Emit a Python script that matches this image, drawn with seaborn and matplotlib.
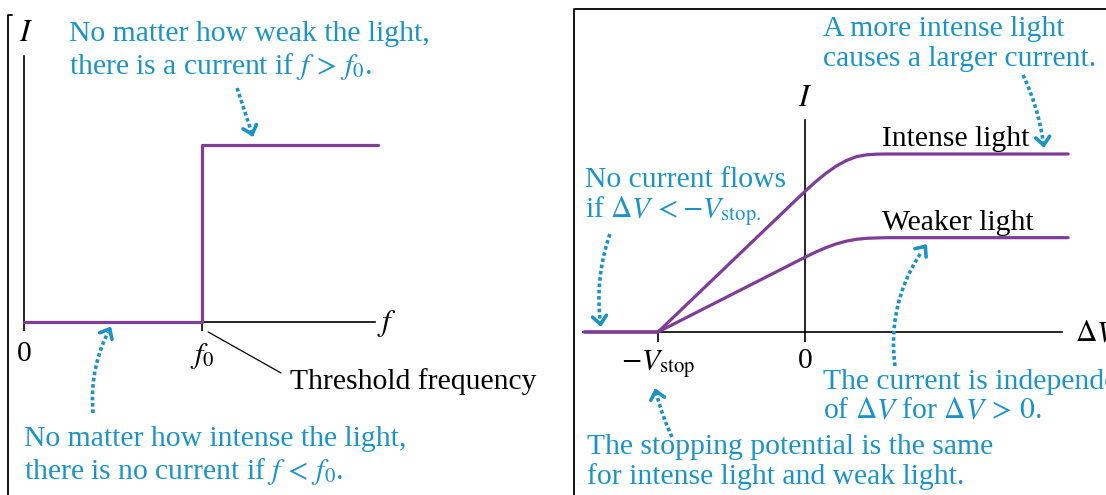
import numpy as np
import pandas as pd
import matplotlib
matplotlib.use("Agg")
import matplotlib.pyplot as plt
from matplotlib.lines import Line2D
import seaborn as sns

# ---- data -------------------------------------------------------------
# Left: photocurrent versus light frequency (f0 = threshold frequency = 1)
freq = [0.0, 1.0, 1.0, 1.99]
current_f = [0.0, 0.0, 1.0, 1.0]
freq_ticks = [0.0, 1.0]
freq_tick_labels = ["0", "$f_0$"]

# Right: photocurrent versus potential difference (V_stop = 1)
dv_intense = [-1.5, -1.0, -0.07, 0.0, 0.07, 0.14, 0.21, 0.28, 0.35, 0.42, 0.49, 0.56, 1.79]
i_intense = [0.0, 0.0, 0.735, 0.79, 0.8425, 0.89, 0.9306, 0.9628, 0.9852, 0.9957, 0.9992, 1.0, 1.0]
dv_weak = [-1.5, -1.0, -0.07, 0.0, 0.07, 0.14, 0.21, 0.28, 0.35, 0.42, 0.49, 0.56, 1.79]
i_weak = [0.0, 0.0, 0.3906, 0.42, 0.448, 0.4732, 0.4942, 0.5103, 0.5208, 0.5264, 0.5285, 0.53, 0.53]
dv_ticks = [-1.0, 0.0]
dv_tick_labels = [r"$-V_{\mathrm{stop}}$", "0"]

# ---- style ------------------------------------------------------------
sns.set_theme(style="white")
plt.rcParams["font.family"] = ["Liberation Serif", "DejaVu Serif"]
plt.rcParams["mathtext.fontset"] = "stix"

PURPLE = "#7e3d96"
BLUE = "#1b93c6"
FS = 21.3
W, H = 1106, 495

fig = plt.figure(figsize=(W / 100, H / 100), dpi=100)
fig.patch.set_facecolor("white")

axL = fig.add_axes([0, 0, 570 / W, 1])
axR = fig.add_axes([570 / W, 0, 536 / W, 1])

axL.set_xlim(-24 / 178, 546 / 178)
axL.set_ylim(-173 / 177, 322 / 177)
axR.set_xlim(-235 / 147, 301 / 147)
axR.set_ylim(-163 / 178, 332 / 178)


def style_axes(ax, xb, yb, ticks, labels, tlen, pad):
    ax.set_facecolor("none")
    for s in ("top", "right"):
        ax.spines[s].set_visible(False)
    for s in ("left", "bottom"):
        ax.spines[s].set_position(("data", 0))
        ax.spines[s].set_color("black")
        ax.spines[s].set_linewidth(1.2)
    ax.spines["bottom"].set_bounds(*xb)
    ax.spines["left"].set_bounds(*yb)
    ax.set_yticks([])
    ax.set_xticks(ticks)
    ax.set_xticklabels(labels)
    ax.tick_params(axis="x", direction="out", length=tlen, width=1.2,
                   color="black", pad=pad, labelsize=FS, labelcolor="black",
                   bottom=True)
    ax.grid(False)


style_axes(axL, (0, 1.97), (0, 1.505), freq_ticks, freq_tick_labels, 6.5, 7)
style_axes(axR, (-1.51, 1.748), (0, 1.19), dv_ticks, dv_tick_labels, 7.2, 4)

# ---- curves -----------------------------------------------------------
sns.lineplot(x=freq, y=current_f, ax=axL, color=PURPLE, lw=2.3,
             estimator=None, sort=False, zorder=3)
sns.lineplot(x=dv_intense, y=i_intense, ax=axR, color=PURPLE, lw=2.3,
             estimator=None, sort=False, zorder=3)
sns.lineplot(x=dv_weak, y=i_weak, ax=axR, color=PURPLE, lw=2.3,
             estimator=None, sort=False, zorder=3)


# ---- panel frames -----------------------------------------------------
def fig_line(xs, ys, lw=1.3):
    fig.add_artist(Line2D([x / W for x in xs], [1 - y / H for y in ys],
                          transform=fig.transFigure, color="black", lw=lw))


fig_line([12, 8, 8], [15, 15, 495])
fig_line([1106, 574, 574], [9, 9, 495])


# ---- annotation pointers: dotted curved shaft + open chevron head -----
def pointer(ax, start, end, rad):
    p1 = ax.transData.transform(start)
    p2 = ax.transData.transform(end)
    dx, dy = p2 - p1
    ctrl = (p1 + p2) / 2 + rad * np.array([dy, -dx])
    t = np.linspace(0, 0.93, 40)[:, None]
    pts = (1 - t) ** 2 * p1 + 2 * (1 - t) * t * ctrl + t ** 2 * p2
    pts = ax.transData.inverted().transform(pts)
    ax.plot(pts[:, 0], pts[:, 1], color=BLUE, lw=2.6,
            linestyle=(0, (1.0, 0.75)), dash_capstyle="butt", zorder=4)
    tang = p2 - ctrl
    tang = tang / np.hypot(*tang)
    back = ax.transData.inverted().transform(p2 - 4 * tang)
    ax.annotate("", xy=end, xytext=back,
                arrowprops=dict(arrowstyle="->,head_length=0.42,head_width=0.36",
                                color=BLUE, lw=2.6, shrinkA=0, shrinkB=0,
                                mutation_scale=14))


def txt(ax, x, y, s, color, **kw):
    ax.text(x, y, s, color=color, fontsize=FS, va="baseline", ha="left", **kw)


# left panel text
axL.text(0.011, 1.59, "$I$", fontsize=FS + 1, ha="center", va="baseline", color="black")
axL.text(2.04, -0.05, "$f$", fontsize=FS + 1, ha="center", va="baseline", color="black")
txt(axL, 0.253, 1.588, "No matter how weak the light,", BLUE)
txt(axL, 0.253, 1.401, r"there is a current if $f\,>\,f_0$.", BLUE)
txt(axL, 0.0, -0.701, "No matter how intense the light,", BLUE)
txt(axL, 0.0, -0.887, r"there is no current if $f\,<\,f_0$.", BLUE)
txt(axL, 1.494, -0.379, "Threshold frequency", "black")
axL.plot([1.034, 1.444], [-0.056, -0.288], color="black", lw=0.9)
pointer(axL, (1.197, 1.322), (1.287, 1.045), 0.0)
pointer(axL, (0.388, -0.514), (0.489, -0.025), -0.15)

# right panel text
axR.text(0.0, 1.27, "$I$", fontsize=FS + 1, ha="center", va="baseline", color="black")
txt(axR, 1.837, -0.05, r"$\Delta V$", "black")
txt(axR, 0.524, 1.045, "Intense light", "black")
txt(axR, 0.524, 0.573, "Weaker light", "black")
txt(axR, 0.122, 1.663, "A more intense light", BLUE)
txt(axR, 0.122, 1.494, "causes a larger current.", BLUE)
txt(axR, -1.497, 0.815, "No current flows", BLUE)
txt(axR, -1.497, 0.646, r"if $\Delta V\,< -V_{\mathrm{stop}.}$", BLUE)
txt(axR, 0.122, -0.320, "The current is independent", BLUE)
txt(axR, 0.122, -0.483, r"of $\Delta V$ for $\Delta V\,>\,0$.", BLUE)
txt(axR, -1.483, -0.685, "The stopping potential is the same", BLUE)
txt(axR, -1.483, -0.854, "for intense light and weak light.", BLUE)
pointer(axR, (1.483, 1.444), (1.626, 1.034), -0.08)
pointer(axR, (-1.327, 0.55), (-1.388, 0.028), 0.12)
pointer(axR, (0.612, -0.191), (0.830, 0.494), -0.2)
pointer(axR, (-0.905, -0.59), (-1.02, -0.315), -0.05)

fig.savefig("out.png", dpi=100, facecolor="white")
